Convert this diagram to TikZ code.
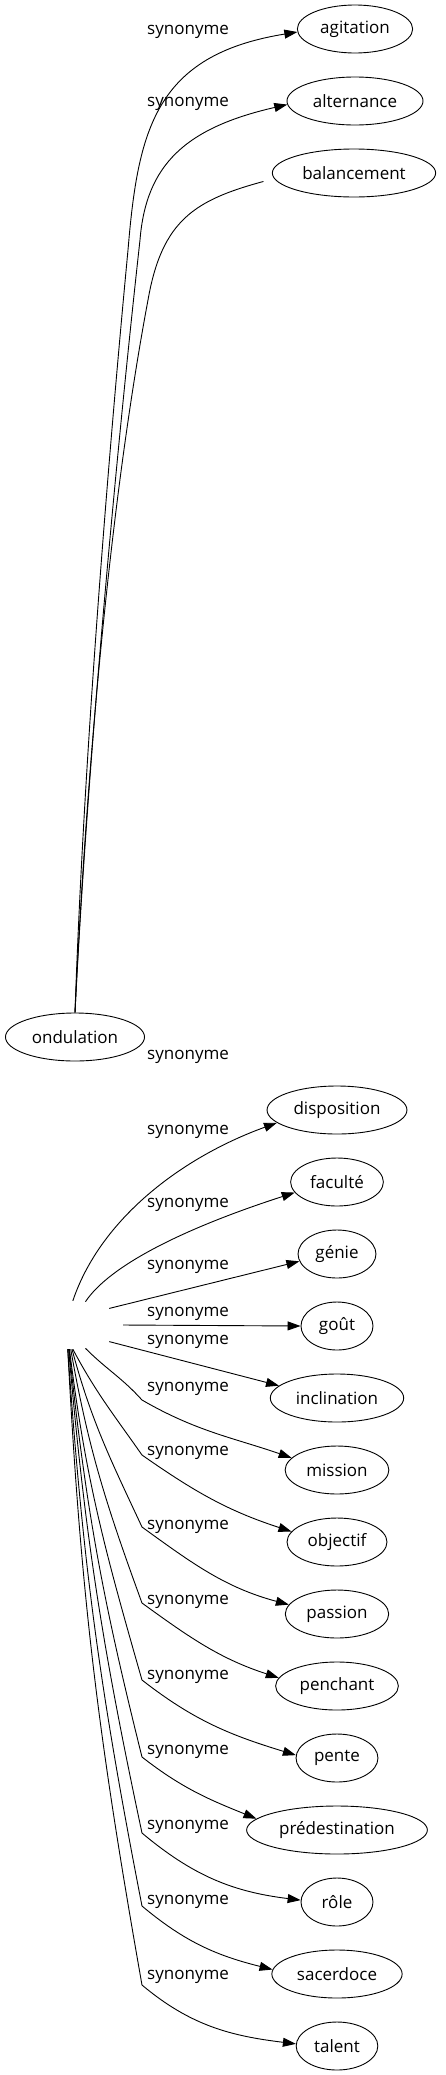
\documentclass[tikz,border=0pt]{standalone}
\usepackage{fontspec}
\setmainfont{Open Sans}
\usetikzlibrary{arrows.meta, shapes.geometric}

\begin{document}
\begin{tikzpicture}[x=1pt, y=1pt, font=\fontsize{17}{20}\selectfont,
    word/.style={draw, ellipse, line width=0.9pt, minimum width=72pt, minimum height=48pt, inner xsep=6pt},
    syn/.style={line width=0.9pt, -{Triangle[length=13pt, width=9pt]}},
    lab/.style={anchor=west, inner sep=0pt}]
  \useasboundingbox (0,0) rectangle (445,-2075);
  % upper group
  \node[word] (ondulation) at (75,-1037) {ondulation};
  \node[word] (agitation) at (355,-29) {agitation};
  \node[word] (alternance) at (355,-101) {alternance};
  \node[word] (balancement) at (354,-173) {balancement};
  \draw[syn] (ondulation.north) .. controls (84,-750) and (110,-440) .. (128,-250)
    .. controls (138,-130) and (155,-55) .. (agitation.183);
  \draw[syn] (ondulation.north) .. controls (88,-750) and (120,-420) .. (140,-240)
    .. controls (146,-165) and (185,-128) .. (alternance.183);
  \draw[line width=0.9pt, shorten >=11pt] (ondulation.north) .. controls (90,-700) and (118,-460) .. (148,-300)
    .. controls (162,-220) and (195,-200) .. (balancement.184);
  % lower group
  \node[ellipse, minimum width=102pt, minimum height=48pt, inner sep=0pt] (hub) at (72,-1325) {};
  \foreach \n/\w [count=\i] in {dispo/disposition, facult/faculté, genie/génie, gout/goût,
      inclin/inclination, mission/mission, objectif/objectif, passion/passion, penchant/penchant,
      pente/pente, predest/prédestination, role/rôle, sacer/sacerdoce, talent/talent}
    \node[word] (\n) at (337,{-1110-72*(\i-1)}) {\w};
  \foreach \y [count=\i] in {32,104,1057,1132,1205,1267,1314,1342,1389,1453,1527,1602,1677,1752,1827,1902,1977}
    \node[lab] (syn\i) at (147,-\y) {synonyme};
  \draw[syn] (hub.88) .. controls (100,-1220) and (180,-1158) .. (dispo.192);
  \draw[syn] (hub.60) .. controls (110,-1265) and (185,-1228) .. (facult.194);
  \draw[syn] (hub.24) -- (genie.191);
  \draw[syn] (hub.east) -- (gout.west);
  \draw[syn] (hub.-24) -- (inclin.168);
  \foreach \n/\sa/\so/\ky/\ki/\ko/\ea/\ei in {mission/-60/-45/1400/132/-30/165/161,
      objectif/-88/-62/1455/125/-35/167/162, passion/-90/-75/1527/115/-36/169/165,
      penchant/-93/-80/1603/110/-36/172/162, pente/-96/-83/1680/106/-38/176/163,
      predest/-97/-84/1757/104/-38/172/158, role/-98/-85/1833/102/-40/177/173,
      sacer/-100/-86/1906/101/-40/176/166, talent/-100/-87/1985/100/-40/177/173}
    \draw[syn] (hub.\sa) to[out=\so, in=\ki] (142,-\ky) to[out=\ko, in=\ei] (\n.\ea);
\end{tikzpicture}
\end{document}
